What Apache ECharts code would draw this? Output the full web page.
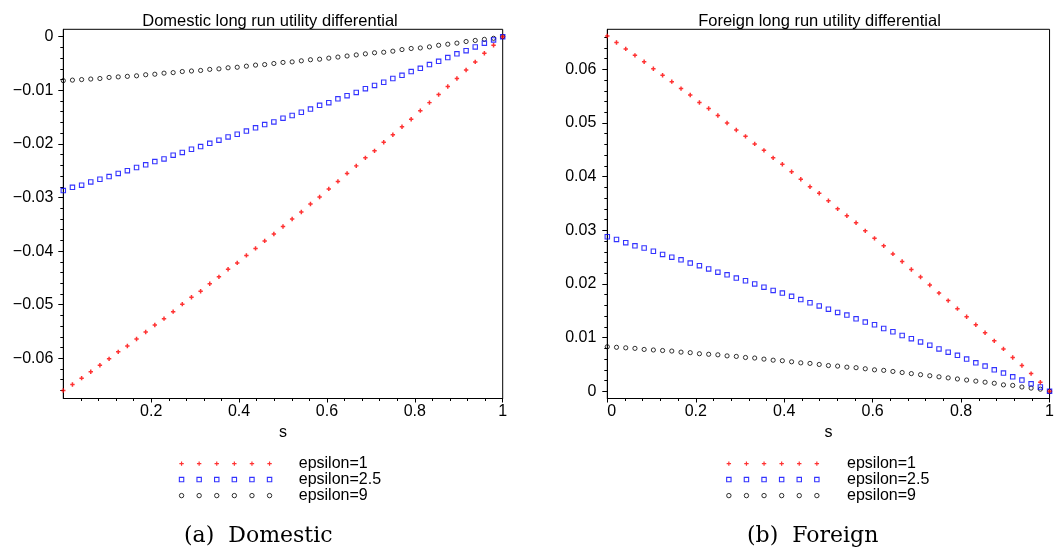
<!DOCTYPE html>
<html>
<head>
<meta charset="utf-8">
<script src="https://cdn.jsdelivr.net/npm/echarts@6/dist/echarts.min.js"></script>
<style>html,body{margin:0;padding:0;background:#fff}#c{width:1057px;height:550px}</style>
</head>
<body>
<div id="c"></div>
<script>
// ---- data ----
const sGrid = [0,0.0208,0.0417,0.0625,0.0833,0.1042,0.125,0.1458,0.1667,0.1875,0.2083,0.2292,0.25,0.2708,0.2917,0.3125,0.3333,0.3542,0.375,0.3958,0.4167,0.4375,0.4583,0.4792,0.5,0.5208,0.5417,0.5625,0.5833,0.6042,0.625,0.6458,0.6667,0.6875,0.7083,0.7292,0.75,0.7708,0.7917,0.8125,0.8333,0.8542,0.875,0.8958,0.9167,0.9375,0.9583,0.9792,1];

const seriesNames = ['epsilon=1', 'epsilon=2.5', 'epsilon=9'];

const domEps1 = [-0.0660,-0.0649,-0.0637,-0.0625,-0.0613,-0.0601,-0.0588,-0.0577,-0.0564,-0.0551,
  -0.0538,-0.0526,-0.0513,-0.0499,-0.0486,-0.0475,-0.0461,-0.0448,-0.0434,-0.0422,
  -0.0408,-0.0395,-0.0381,-0.0368,-0.0354,-0.0340,-0.0327,-0.0312,-0.0299,-0.0284,
  -0.0270,-0.0255,-0.0241,-0.0226,-0.0213,-0.0197,-0.0183,-0.0168,-0.0154,-0.0138,
  -0.0123,-0.0108,-0.0093,-0.0078,-0.0062,-0.0047,-0.0031,-0.0016,0];
const domEps25 = [-0.0287,-0.0281,-0.0277,-0.0271,-0.0266,-0.0261,-0.0255,-0.0250,-0.0244,-0.0239,
  -0.0233,-0.0228,-0.0221,-0.0216,-0.0210,-0.0205,-0.0199,-0.0193,-0.0187,-0.0182,
  -0.0176,-0.0170,-0.0164,-0.0159,-0.0152,-0.0147,-0.0141,-0.0135,-0.0128,-0.0123,
  -0.0116,-0.0110,-0.0104,-0.0097,-0.0091,-0.0085,-0.0078,-0.0072,-0.0065,-0.0059,
  -0.0052,-0.0046,-0.0039,-0.0032,-0.0026,-0.0019,-0.0012,-0.0006,0];
const domEps9 = [-0.0082,-0.0081,-0.0080,-0.0079,-0.0078,-0.0076,-0.0075,-0.0074,-0.0073,-0.0071,
  -0.0070,-0.0068,-0.0067,-0.0065,-0.0064,-0.0063,-0.0061,-0.0060,-0.0058,-0.0057,
  -0.0055,-0.0053,-0.0052,-0.0050,-0.0048,-0.0047,-0.0045,-0.0043,-0.0042,-0.0040,
  -0.0038,-0.0036,-0.0034,-0.0032,-0.0030,-0.0029,-0.0027,-0.0024,-0.0022,-0.0021,
  -0.0019,-0.0016,-0.0014,-0.0012,-0.0009,-0.0007,-0.0005,-0.0003,0];

const forEps1 = [0.0662,0.0650,0.0638,0.0626,0.0614,0.0601,0.0589,0.0577,0.0564,0.0552,
  0.0538,0.0527,0.0514,0.0500,0.0487,0.0475,0.0461,0.0449,0.0435,0.0423,
  0.0409,0.0395,0.0381,0.0369,0.0355,0.0340,0.0327,0.0314,0.0299,0.0285,
  0.0271,0.0256,0.0242,0.0227,0.0213,0.0198,0.0183,0.0169,0.0154,0.0139,
  0.0124,0.0109,0.0094,0.0079,0.0063,0.0048,0.0033,0.0017,0];
const forEps25 = [0.0288,0.0283,0.0277,0.0271,0.0267,0.0261,0.0255,0.0250,0.0245,0.0239,
  0.0234,0.0228,0.0222,0.0217,0.0211,0.0206,0.0200,0.0194,0.0188,0.0183,
  0.0177,0.0171,0.0165,0.0159,0.0153,0.0147,0.0142,0.0135,0.0129,0.0124,
  0.0117,0.0111,0.0104,0.0098,0.0092,0.0086,0.0079,0.0073,0.0067,0.0060,
  0.0053,0.0047,0.0040,0.0034,0.0027,0.0021,0.0014,0.0008,0];
const forEps9 = [0.0083,0.0082,0.0081,0.0080,0.0078,0.0077,0.0076,0.0075,0.0073,0.0072,
  0.0070,0.0069,0.0068,0.0066,0.0065,0.0063,0.0062,0.0060,0.0058,0.0057,
  0.0055,0.0053,0.0052,0.0050,0.0048,0.0047,0.0045,0.0044,0.0042,0.0040,
  0.0039,0.0037,0.0035,0.0033,0.0031,0.0029,0.0027,0.0025,0.0023,0.0021,
  0.0019,0.0017,0.0015,0.0012,0.0011,0.0008,0.0006,0.0004,0];

const domYTicks = [-0.06,-0.05,-0.04,-0.03,-0.02,-0.01,0];
const forYTicks = [0,0.01,0.02,0.03,0.04,0.05,0.06];
const domXTicks = [0.2,0.4,0.6,0.8,1];
const forXTicks = [0,0.2,0.4,0.6,0.8,1];

const titles = ['Domestic long run utility differential', 'Foreign long run utility differential'];
const captions = ['(a)  Domestic', '(b)  Foreign'];

// ---- helpers ----
function minorTicks(lo, hi, step, majors) {
  const out = [];
  const n = Math.round((hi - lo) / step);
  for (let i = 0; i <= n; i++) {
    const v = Math.round((lo + i * step) * 100000) / 100000;
    if (!majors.some(m => Math.abs(m - v) < 1e-9)) out.push(v);
  }
  return out;
}
const pairs = ys => sGrid.map((s, i) => [s, ys[i]]);
const yFmt = v => Math.abs(v) < 1e-12 ? '0' : (v < 0 ? '\u2212' : '') + Math.abs(v).toFixed(2);
const xFmt = v => (Math.abs(v) < 1e-12 ? '0' : Math.abs(v - 1) < 1e-12 ? '1' : v.toFixed(1));

const FONT = 'Liberation Sans';
const black = '#000';

// legend icons: six small marks in a row
const centers = [0,1,2,3,4,5].map(i => 2.2 + i * 17.6);
const plusIcon = 'path://' + centers.map(c => `M${c-2.2},1.6h4.4v1.2h-4.4z M${c-0.6},0h1.2v4.4h-1.2z`).join(' ');
const sqIcon = 'path://' + centers.map(c => `M${c-2.2},0h4.4v4.4h-4.4z`).join(' ');
const circIcon = 'path://' + centers.map(c => `M${c+2.2},2.2A2.2,2.2,0,1,1,${c-2.2},2.2A2.2,2.2,0,1,1,${c+2.2},2.2z`).join(' ');

const plusSymbol = 'path://M0,3.3h10v3.4h-10z M3.3,0h3.4v10h-3.4z';

function majorX(grid, ticks, alignMin) {
  return {
    type: 'value', gridIndex: grid, min: 0, max: 1, position: 'bottom',
    name: 's', nameLocation: 'middle', nameGap: 24.5,
    nameTextStyle: { fontSize: 16, color: black, fontFamily: FONT },
    axisLine: { show: true, onZero: false, lineStyle: { color: black, width: 1 } },
    axisTick: { show: true, inside: false, length: 4, customValues: ticks, lineStyle: { color: black } },
    axisLabel: { show: true, customValues: ticks, formatter: xFmt, margin: 5, fontSize: 16,
      color: black, fontFamily: FONT, alignMinLabel: alignMin ? 'left' : 'center' },
    splitLine: { show: false }
  };
}
function minorX(grid, ticks) {
  return {
    type: 'value', gridIndex: grid, min: 0, max: 1, position: 'bottom',
    axisLine: { show: false, onZero: false },
    axisTick: { show: true, inside: false, length: 2.5, customValues: minorTicks(0, 1, 0.04, ticks.concat([0, 1])), lineStyle: { color: black } },
    axisLabel: { show: false }, splitLine: { show: false }
  };
}
function majorY(grid, min, max, ticks, margin) {
  return {
    type: 'value', gridIndex: grid, min, max, position: 'left',
    axisLine: { show: true, onZero: false, lineStyle: { color: black, width: 1 } },
    axisTick: { show: true, inside: false, length: 5, customValues: ticks, lineStyle: { color: black } },
    axisLabel: { show: true, customValues: ticks, formatter: yFmt, margin, fontSize: 16, color: black, fontFamily: FONT },
    splitLine: { show: false }
  };
}
function minorY(grid, min, max, lo, hi, ticks) {
  return {
    type: 'value', gridIndex: grid, min, max, position: 'left',
    axisLine: { show: false, onZero: false },
    axisTick: { show: true, inside: false, length: 3, customValues: minorTicks(lo, hi, 0.002, ticks), lineStyle: { color: black } },
    axisLabel: { show: false }, splitLine: { show: false }
  };
}

function scatterSet(xi, yi, d1, d25, d9) {
  return [
    { name: seriesNames[0], type: 'scatter', xAxisIndex: xi, yAxisIndex: yi, data: pairs(d1), z: 4,
      symbol: plusSymbol, symbolSize: 4.4, itemStyle: { color: '#ff0000' }, silent: true, emphasis: { disabled: true } },
    { name: seriesNames[1], type: 'scatter', xAxisIndex: xi, yAxisIndex: yi, data: pairs(d25), z: 3,
      symbol: 'rect', symbolSize: 4.4, itemStyle: { color: 'rgba(0,0,0,0)', borderColor: '#0000ff', borderWidth: 1.1 }, silent: true, emphasis: { disabled: true } },
    { name: seriesNames[2], type: 'scatter', xAxisIndex: xi, yAxisIndex: yi, data: pairs(d9), z: 2,
      symbol: 'circle', symbolSize: 4.2, itemStyle: { color: 'rgba(0,0,0,0)', borderColor: '#000000', borderWidth: 1 }, silent: true, emphasis: { disabled: true } }
  ];
}

function legendFor(left, padLeft) {
  return {
    orient: 'vertical', left, top: 455.6, padding: 0, itemGap: 0,
    itemWidth: 92.4, itemHeight: 4.4, selectedMode: false,
    textStyle: { fontSize: 16, color: black, fontFamily: FONT, lineHeight: 15, padding: [0, 0, 0, padLeft] },
    data: [
      { name: seriesNames[0], icon: plusIcon, itemStyle: { color: '#ff0000', borderWidth: 0 } },
      { name: seriesNames[1], icon: sqIcon, itemStyle: { color: 'rgba(0,0,0,0)', borderColor: '#0000ff', borderWidth: 1.1 } },
      { name: seriesNames[2], icon: circIcon, itemStyle: { color: 'rgba(0,0,0,0)', borderColor: '#000000', borderWidth: 1 } }
    ]
  };
}

const dMin = -0.0675, dMax = 0.00138;
const fMin = -0.00134, fMax = 0.06745;

const option = {
  animation: false,
  backgroundColor: '#fff',
  textStyle: { fontFamily: FONT },
  title: [
    { text: titles[0], left: 270, top: 12.7, textAlign: 'center', padding: 0,
      textStyle: { fontSize: 16.5, fontWeight: 'normal', color: black, fontFamily: FONT } },
    { text: titles[1], left: 819.5, top: 12.7, textAlign: 'center', padding: 0,
      textStyle: { fontSize: 16.5, fontWeight: 'normal', color: black, fontFamily: FONT } }
  ],
  grid: [
    { left: 63.3, top: 29.3, width: 439.4, height: 369.2, show: true, borderColor: black, borderWidth: 1, backgroundColor: 'transparent' },
    { left: 607.3, top: 29.3, width: 448.7, height: 369.2, show: true, borderColor: black, borderWidth: 1, backgroundColor: 'transparent' }
  ],
  xAxis: [
    majorX(0, domXTicks, false), minorX(0, domXTicks),
    majorX(1, forXTicks, true), minorX(1, forXTicks)
  ],
  yAxis: [
    majorY(0, dMin, dMax, domYTicks, 10), minorY(0, dMin, dMax, -0.066, 0, domYTicks),
    majorY(1, fMin, fMax, forYTicks, 11), minorY(1, fMin, fMax, 0, 0.066, forYTicks)
  ],
  legend: [legendFor(178.8, 22), legendFor(726.1, 23)],
  series: [].concat(
    scatterSet(0, 0, domEps1, domEps25, domEps9),
    scatterSet(2, 2, forEps1, forEps25, forEps9)
  ),
  graphic: [
    { type: 'text', x: 184, y: 536.4, silent: true,
      style: { text: captions[0], font: '22px "DejaVu Serif"', fill: black, verticalAlign: 'middle', align: 'left' } },
    { type: 'text', x: 747, y: 536.4, silent: true,
      style: { text: captions[1], font: '22px "DejaVu Serif"', fill: black, verticalAlign: 'middle', align: 'left' } }
  ]
};

const chart = echarts.init(document.getElementById('c'), null, { renderer: 'canvas' });
chart.setOption(option);
</script>
</body>
</html>
